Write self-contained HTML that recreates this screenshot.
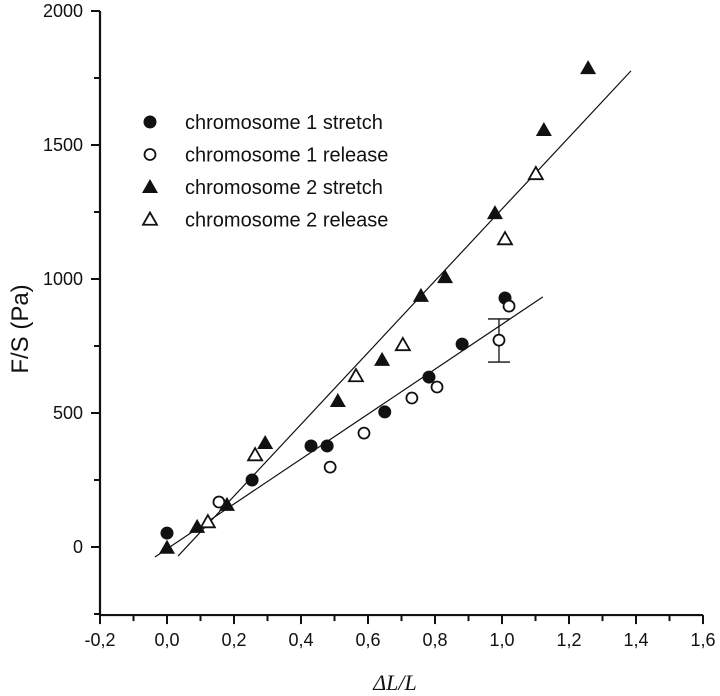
<!DOCTYPE html>
<html><head><meta charset="utf-8"><style>
body{margin:0;background:#fff}
svg{display:block}
</style></head><body>
<svg id="chart" width="720" height="696" viewBox="0 0 720 696" xmlns="http://www.w3.org/2000/svg"></svg>
<script>
const xTicks=[-0.2,0,0.2,0.4,0.6,0.8,1.0,1.2,1.4,1.6];
const xTickLabels=["-0,2","0,0","0,2","0,4","0,6","0,8","1,0","1,2","1,4","1,6"];
const yTicks=[0,500,1000,1500,2000];
const yTickLabels=["0","500","1000","1500","2000"];
const c1sX=[0,0.254,0.43,0.478,0.65,0.782,0.881,1.009];
const c1sY=[52,250,377,377,504,634,757,929];
const c1rX=[0.155,0.487,0.588,0.731,0.806,0.991,1.021];
const c1rY=[168,298,425,556,597,772,899];
const c2sX=[0,0.09,0.179,0.293,0.51,0.642,0.758,0.83,0.979,1.125,1.257];
const c2sY=[-3,75,157,388,545,698,937,1007,1246,1556,1787];
const c2rX=[0.122,0.263,0.564,0.704,1.009,1.101];
const c2rY=[93,343,638,754,1149,1392];
const errX=[0.991];const errLo=[690];const errHi=[851];
const fit1=[-0.036,1.122]; const fit1Coef=[-7,838];
const fit2=[0.033,1.385]; const fit2Coef=[-78,1339];

const X=v=>167+v*335;
const Y=v=>547-v*0.268;
const svg=document.getElementById('chart');
const NS='http://www.w3.org/2000/svg';
const SANS='font-family:"Liberation Sans",Arial,sans-serif;fill:#111;';
function mk(tag,attrs,parent){const e=document.createElementNS(NS,tag);for(const k in attrs)e.setAttribute(k,attrs[k]);(parent||svg).appendChild(e);return e;}

let ax=mk('path',{d:`M${X(-0.2)} ${Y(2000)} V${Y(-254)} H${X(1.6)}`,stroke:'#111','stroke-width':2.2,fill:'none'});


for(let i=0;i<=18;i++){const v=-0.2+i*0.1;const big=i%2===0;
 const t=mk('line',{x1:X(v),x2:X(v),y1:Y(-254),y2:Y(-254)+(big?9:6),stroke:'#111','stroke-width':2});
 
 }
xTicks.forEach((v,i)=>{const t=mk('text',{x:X(v),y:646,'text-anchor':'middle',style:SANS+'font-size:18px'});t.textContent=xTickLabels[i];
 
 });
for(let i=0;i<=9;i++){const v=-250+i*250;const big=v%500===0;
 const t=mk('line',{x1:X(-0.2),x2:X(-0.2)-(big?9:6),y1:Y(v),y2:Y(v),stroke:'#111','stroke-width':2});
 
 }
yTicks.forEach((v,i)=>{const t=mk('text',{x:83,y:Y(v)+6,'text-anchor':'end',style:SANS+'font-size:18px'});t.textContent=yTickLabels[i];
 
 });
let yl=mk('text',{x:0,y:0,'text-anchor':'middle',transform:'translate(28,329) rotate(-90)',style:SANS+'font-size:24px'});yl.textContent='F/S (Pa)';


let xl=mk('text',{x:395,y:690,'text-anchor':'middle',style:'font-family:"Liberation Serif",serif;font-style:italic;font-size:22px;fill:#111'});xl.textContent='ΔL/L';



[[fit1,fit1Coef,'fit-line-chromosome-1'],[fit2,fit2Coef,'fit-line-chromosome-2']].forEach(([r,c,n])=>{
 const l=mk('line',{x1:X(r[0]),y1:Y(c[0]+c[1]*r[0]),x2:X(r[1]),y2:Y(c[0]+c[1]*r[1]),stroke:'#111','stroke-width':1.2});
 
 });

errX.forEach((v,i)=>{const g=mk('path',{d:`M${X(v)} ${Y(errLo[i])} V${Y(errHi[i])} M${X(v)-11} ${Y(errLo[i])} h22 M${X(v)-11} ${Y(errHi[i])} h22`,stroke:'#111','stroke-width':1.3,fill:'none'});
 
 });

function circle(x,y,filled,p){return mk('circle',{cx:x,cy:y,r:filled?6.5:5.5,fill:filled?'#111':'#fff',stroke:'#111','stroke-width':filled?0:1.8},p);}
function tri(x,y,filled,p){const s=filled?8:7;return mk('path',{d:`M${x} ${y-s} L${x+s} ${y+s*0.75} L${x-s} ${y+s*0.75}Z`,fill:filled?'#111':'#fff',stroke:'#111','stroke-width':filled?0:1.8},p);}

const series=[[c1sX,c1sY,circle,true,'chromosome-1-stretch-point'],[c1rX,c1rY,circle,false,'chromosome-1-release-point'],[c2sX,c2sY,tri,true,'chromosome-2-stretch-point'],[c2rX,c2rY,tri,false,'chromosome-2-release-point']];
series.forEach(([xs,ys,f,fill,n])=>xs.forEach((v,i)=>{const e=f(X(v),Y(ys[i]),fill);
 
 }));

const legendLabels=['chromosome 1 stretch','chromosome 1 release','chromosome 2 stretch','chromosome 2 release'];
const lg=mk('g',{});


legendLabels.forEach((s,i)=>{const y=122+i*32.5;const sr=series[i];
 const m=sr[2](150,y,sr[3],lg);
 
 
 const t=mk('text',{x:185,y:y+7,style:SANS+'font-size:20px'},lg);t.textContent=s;
 
 });
</script>
</body></html>
